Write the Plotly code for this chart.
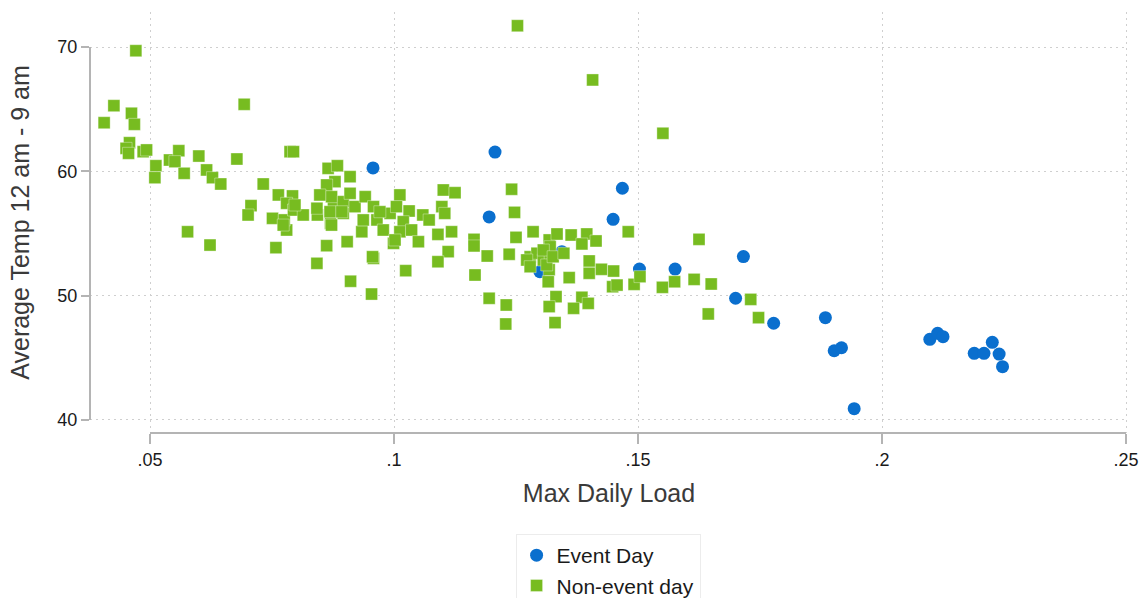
import plotly.graph_objects as go

# Event days: max daily load vs. average overnight temperature
event_load = [0.0957, 0.1207, 0.1195, 0.1299, 0.1344, 0.1449, 0.1468, 0.1503,
              0.1576, 0.1716, 0.1700, 0.1778, 0.1884, 0.1902, 0.1917, 0.1943,
              0.2098, 0.2114, 0.2125, 0.2189, 0.2209, 0.2226, 0.2240, 0.2247]
event_temp = [60.27, 61.55, 56.33, 51.93, 53.54, 56.14, 58.64, 52.14,
              52.14, 53.14, 49.79, 47.78, 48.23, 45.57, 45.81, 40.91,
              46.49, 46.97, 46.70, 45.36, 45.36, 46.25, 45.30, 44.29]

# Non-event days
nonevent_load = [
    0.0471, 0.0426, 0.0406, 0.0462, 0.0468, 0.0458, 0.0451, 0.0456, 0.0486, 0.0493,
    0.0512, 0.0510, 0.0540, 0.0559, 0.0551, 0.0570, 0.0600, 0.0616, 0.0628, 0.0645,
    0.0693, 0.0678, 0.0732, 0.0707, 0.0701, 0.0763, 0.0787, 0.0794, 0.0792, 0.0780,
    0.0577, 0.0623, 0.0751, 0.0780, 0.0758, 0.0775, 0.0794, 0.0814, 0.0843, 0.0870,
    0.0862, 0.0842, 0.0904, 0.0911, 0.0954, 0.0958, 0.0956, 0.0934, 0.0896, 0.0876,
    0.0865, 0.0884, 0.0910, 0.0879, 0.0862, 0.0872, 0.0869, 0.0872, 0.0896, 0.0910,
    0.0893, 0.0920, 0.0941, 0.0937, 0.0958, 0.0965, 0.0978, 0.0992, 0.0999, 0.0773,
    0.0797, 0.0842, 0.0848, 0.1012, 0.1005, 0.1031, 0.1019, 0.1012, 0.1002, 0.1036,
    0.1050, 0.1059, 0.1072, 0.1024, 0.1101, 0.1125, 0.1098, 0.1104, 0.1090, 0.1118,
    0.1111, 0.1090, 0.1164, 0.1164, 0.1191, 0.1166, 0.1195, 0.1230, 0.1229, 0.1241,
    0.1247, 0.1250, 0.1236, 0.1285, 0.1318, 0.1334, 0.1279, 0.1293, 0.1306, 0.1320,
    0.1318, 0.1316, 0.1332, 0.1318, 0.1330, 0.1272, 0.1279, 0.1320, 0.1306, 0.1313,
    0.1326, 0.1348, 0.1363, 0.1395, 0.1385, 0.1414, 0.1400, 0.1400, 0.1359, 0.1425,
    0.1450, 0.1448, 0.1457, 0.1492, 0.1504, 0.1550, 0.1575, 0.1615, 0.1650, 0.1644,
    0.1625, 0.1480, 0.1385, 0.1368, 0.1398, 0.1731, 0.1747, 0.1253, 0.1407, 0.1551,
    0.0971,
]
nonevent_temp = [
    69.70, 65.28, 63.91, 64.67, 63.78, 62.30, 61.85, 61.45, 61.58, 61.72,
    60.45, 59.49, 60.91, 61.66, 60.78, 59.84, 61.23, 60.11, 59.49, 58.98,
    65.39, 60.99, 58.98, 57.24, 56.49, 58.10, 61.58, 61.58, 58.02, 57.43,
    55.14, 54.07, 56.22, 55.28, 53.86, 56.09, 56.89, 56.49, 56.49, 55.82,
    54.02, 52.60, 54.34, 51.16, 50.13, 53.00, 53.13, 55.14, 56.62, 57.16,
    60.24, 60.45, 59.57, 59.17, 58.90, 57.96, 56.75, 55.68, 57.56, 58.23,
    56.75, 57.16, 57.96, 56.09, 57.16, 56.09, 55.28, 56.62, 54.21, 55.68,
    57.29, 57.03, 58.10, 58.10, 57.16, 56.81, 55.95, 55.14, 54.48, 55.28,
    54.34, 56.49, 56.09, 52.01, 58.50, 58.28, 57.16, 56.62, 54.93, 55.14,
    53.54, 52.73, 54.53, 54.00, 53.19, 51.66, 49.79, 49.25, 47.72, 58.56,
    56.70, 54.69, 53.33, 55.14, 54.48, 54.96, 53.13, 53.41, 52.87, 53.41,
    52.09, 51.12, 49.92, 49.12, 47.83, 52.87, 52.33, 53.94, 53.67, 52.47,
    53.13, 53.41, 54.88, 54.96, 54.16, 54.40, 52.79, 51.80, 51.45, 52.12,
    51.98, 50.72, 50.85, 50.91, 51.53, 50.67, 51.12, 51.31, 50.94, 48.53,
    54.53, 55.14, 49.87, 48.98, 49.38, 49.70, 48.23, 71.71, 67.35, 63.06,
    56.75,
]

x_tickvals = [0.05, 0.10, 0.15, 0.20, 0.25]
x_ticktext = [".05", ".1", ".15", ".2", ".25"]
y_tickvals = [40, 50, 60, 70]

X_RANGE = [0.037705, 0.250410]
Y_RANGE = [38.954, 72.815]

BLUE = "#0a6fce"
GREEN = "#77bc20"
AXIS_GRAY = "#b4b4b4"
FONT = "Liberation Sans, Arial, sans-serif"

fig = go.Figure()
fig.add_trace(go.Scatter(
    x=event_load, y=event_temp, mode="markers", name="Event Day",
    marker=dict(symbol="circle", size=13, color=BLUE, line=dict(width=0)),
))
fig.add_trace(go.Scatter(
    x=nonevent_load, y=nonevent_temp, mode="markers", name="Non-event day",
    marker=dict(symbol="square", size=12, color=GREEN,
                line=dict(width=1, color="rgba(255,255,255,0.35)")),
))


def px_x(v):
    return (v - X_RANGE[0]) / (X_RANGE[1] - X_RANGE[0])


def px_y(v):
    return (v - Y_RANGE[0]) / (Y_RANGE[1] - Y_RANGE[0])


# Axis lines that span only the labelled tick range
shapes = [
    dict(type="line", xref="paper", yref="paper",
         x0=0, x1=0, y0=px_y(y_tickvals[0]), y1=px_y(y_tickvals[-1]),
         line=dict(color=AXIS_GRAY, width=2)),
    dict(type="line", xref="paper", yref="paper",
         x0=px_x(x_tickvals[0]), x1=px_x(x_tickvals[-1]), y0=0, y1=0,
         line=dict(color=AXIS_GRAY, width=2)),
]

fig.update_layout(
    width=1140, height=598,
    margin=dict(l=90, r=12, t=12, b=165, autoexpand=False),
    paper_bgcolor="white", plot_bgcolor="white",
    font=dict(family=FONT, color="#222222"),
    shapes=shapes,
    showlegend=True,
    legend=dict(
        x=0.41, y=-0.2399, xanchor="left", yanchor="top",
        font=dict(family=FONT, size=21, color="#1a1a1a"),
        bgcolor="white", bordercolor="#ececec", borderwidth=1,
    ),
    xaxis=dict(
        range=X_RANGE, tickvals=x_tickvals, ticktext=x_ticktext,
        showline=False, zeroline=False,
        showgrid=True, gridcolor="#cfcfcf", gridwidth=1, griddash="2px,4px",
        ticks="outside", ticklen=10, tickwidth=2, tickcolor=AXIS_GRAY,
        tickfont=dict(size=18, color="#1a1a1a"),
        title=dict(text="Max Daily Load", standoff=15,
                   font=dict(size=25, color="#3a3a3a")),
    ),
    yaxis=dict(
        range=Y_RANGE, tickvals=y_tickvals,
        showline=False, zeroline=False,
        showgrid=True, gridcolor="#cfcfcf", gridwidth=1, griddash="2px,4px",
        ticks="outside", ticklen=8, tickwidth=2, tickcolor=AXIS_GRAY,
        tickfont=dict(size=18, color="#1a1a1a"),
        title=dict(text="Average Temp 12 am - 9 am", standoff=20,
                   font=dict(size=25, color="#3a3a3a")),
    ),
)

fig.write_html("out.html")
